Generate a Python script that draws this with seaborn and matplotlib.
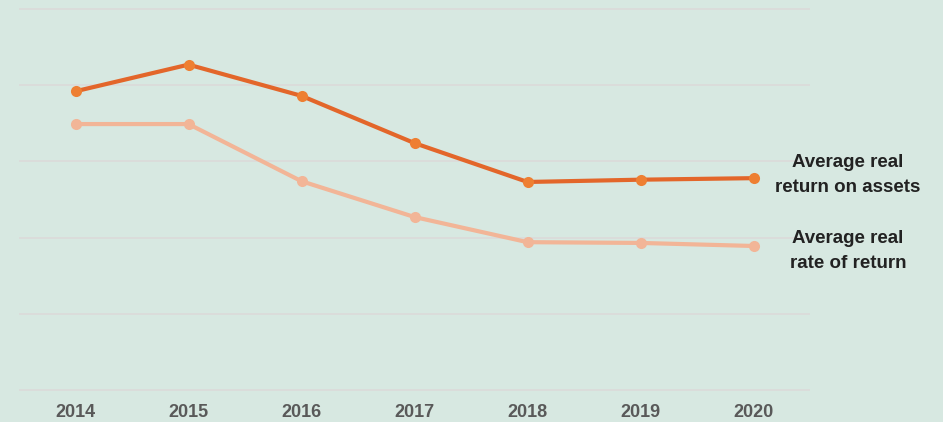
import pandas as pd
import matplotlib.pyplot as plt
import seaborn as sns

# ----------- DATA ------------
years = ['2014', '2015', '2016', '2017', '2018', '2019', '2020']
return_on_assets = [3.92, 4.27, 3.86, 3.24, 2.73, 2.76, 2.78]
rate_of_return = [3.49, 3.49, 2.74, 2.27, 1.94, 1.93, 1.89]
series_labels = ['Average real\nreturn on assets', 'Average real\nrate of return']

bg = '#d7e8e1'
line_colors = ['#e3662a', '#f2b597']
marker_colors = ['#ee7f32', '#f2b597']

df = pd.DataFrame({
    'year': years * 2,
    'value': return_on_assets + rate_of_return,
    'series': [series_labels[0]] * len(years) + [series_labels[1]] * len(years),
})

# ----------- PLOT ------------
sns.set_style('white')
plt.rcParams['font.family'] = ['Liberation Sans', 'DejaVu Sans']

fig = plt.figure(figsize=(9.43, 4.22), dpi=100, facecolor=bg)
ax = fig.add_axes([19 / 943, 1 - 391 / 422, (810 - 19) / 943, (391 - 8) / 422])
ax.set_facecolor(bg)

for i, lab in enumerate(series_labels):
    sub = df[df['series'] == lab]
    sns.lineplot(data=sub, x='year', y='value', ax=ax, color=line_colors[i],
                 linewidth=3, marker='o', markersize=8,
                 markerfacecolor=marker_colors[i], markeredgewidth=0,
                 zorder=3 - i, sort=False)

ax.set_xlim(-0.5, 6.5)
ax.set_ylim(-0.013, 5.013)
ax.set_yticks(range(0, 6))
ax.grid(axis='y', color='#dbd9d9', linewidth=1.1)
ax.set_axisbelow(True)
ax.tick_params(axis='y', left=False, labelleft=False)
ax.tick_params(axis='x', bottom=False, pad=6)
for lbl in ax.get_xticklabels():
    lbl.set_fontweight('bold')
    lbl.set_fontsize(13)
    lbl.set_color('#595959')
for s in ax.spines.values():
    s.set_visible(False)
ax.set_xlabel('')
ax.set_ylabel('')
if ax.get_legend():
    ax.get_legend().remove()

# labels at the end of the lines
fig.text(848 / 943, 1 - 175 / 422, series_labels[0], ha='center', va='center',
         fontsize=13.5, fontweight='bold', color='#222222', linespacing=1.6)
fig.text(848 / 943, 1 - 251 / 422, series_labels[1], ha='center', va='center',
         fontsize=13.5, fontweight='bold', color='#222222', linespacing=1.6)

plt.savefig('out.png', dpi=100, facecolor=bg)
